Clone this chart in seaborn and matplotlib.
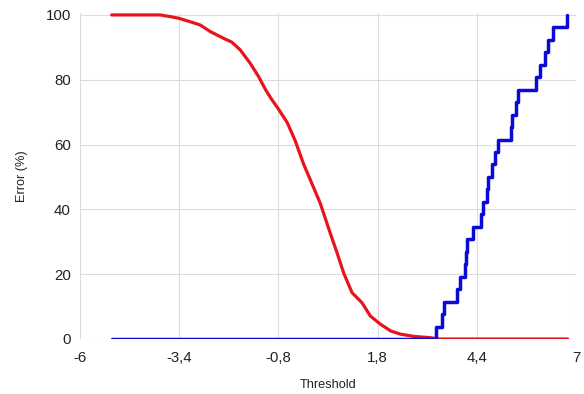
import matplotlib
matplotlib.use("Agg")
import matplotlib.pyplot as plt
import matplotlib.ticker as mticker
import seaborn as sns

# ---------------------------------------------------------------------------
# Data
# ---------------------------------------------------------------------------

# red curve (falls from 100 % to 0 %)
red_x = [-5.17, -3.9, -3.64, -3.42, -3.11, -2.85, -2.59, -2.24, -2.02, -1.80,
         -1.54, -1.32, -1.14, -0.98, -0.80, -0.57, -0.36, -0.14, 0.08, 0.30,
         0.43, 0.56, 0.74, 0.91, 1.13, 1.39, 1.61, 1.87, 2.14, 2.40,
         2.75, 3.19, 3.40, 6.78]
red_y = [100, 100, 99.5, 99.0, 97.9, 96.9, 94.9, 92.8, 91.6, 89.2,
         85.1, 81.0, 77.0, 74.0, 71.0, 66.8, 61.2, 54.0, 47.9, 41.8,
         37.2, 32.6, 26.5, 20.4, 14.3, 11.2, 7.1, 4.6, 2.5, 1.5,
         0.8, 0.4, 0, 0]

# blue step curve (rises from 0 % to 100 %)
blue_x = [-5.17, 3.32, 3.49, 3.54, 3.87, 3.96, 4.08, 4.12, 4.15, 4.30,
          4.52, 4.55, 4.67, 4.70, 4.80, 4.87, 4.95, 5.30, 5.32, 5.44,
          5.49, 5.94, 6.06, 6.20, 6.27, 6.40, 6.77]
blue_y = [0, 3.85, 7.69, 11.54, 15.38, 19.23, 23.08, 26.92, 30.77, 34.62,
          38.46, 42.31, 46.15, 50.0, 53.85, 57.69, 61.54, 65.38, 69.23, 73.08,
          76.92, 80.77, 84.62, 88.46, 92.31, 96.15, 100]

x_ticks = [-6, -3.4, -0.8, 1.8, 4.4, 7]
x_tick_labels = ["-6", "-3,4", "-0,8", "1,8", "4,4", "7"]
y_ticks = [0, 20, 40, 60, 80, 100]

# ---------------------------------------------------------------------------
# Plot
# ---------------------------------------------------------------------------

sns.set_theme(style="whitegrid")
plt.rcParams["font.family"] = ["Liberation Sans", "DejaVu Sans"]

fig = plt.figure(figsize=(5.84, 3.94), dpi=100)
ax = fig.add_axes([80 / 584, 1 - 339 / 394, 496 / 584, 326 / 394])

sns.lineplot(x=red_x, y=red_y, sort=False, color="#e8141b", linewidth=2.3, ax=ax)
sns.lineplot(x=blue_x, y=blue_y, sort=False, color="#0a0ad6", linewidth=2.5,
             drawstyle="steps-post", ax=ax)

ax.set_xlim(-6, 7)
ax.set_ylim(0, 100.6)
ax.xaxis.set_major_locator(mticker.FixedLocator(x_ticks))
ax.set_xticklabels(x_tick_labels)
ax.yaxis.set_major_locator(mticker.FixedLocator(y_ticks))

ax.grid(True, color="#dcdcdc", linewidth=0.8)
for side in ax.spines:
    ax.spines[side].set_visible(False)
ax.tick_params(axis="both", which="major", length=4.5, width=0.8,
               color="#dcdcdc", labelsize=10.8, labelcolor="#222222")
ax.tick_params(axis="x", pad=4)
ax.tick_params(axis="y", pad=2)

ax.set_xlabel("Threshold", fontsize=9.2, color="#222222")
ax.set_ylabel("Error (%)", fontsize=9.2, color="#222222")
ax.xaxis.set_label_coords(0.5, -0.122)
ax.yaxis.set_label_coords(-0.105, 0.5)

fig.savefig("out.png", dpi=100)
plt.close(fig)
